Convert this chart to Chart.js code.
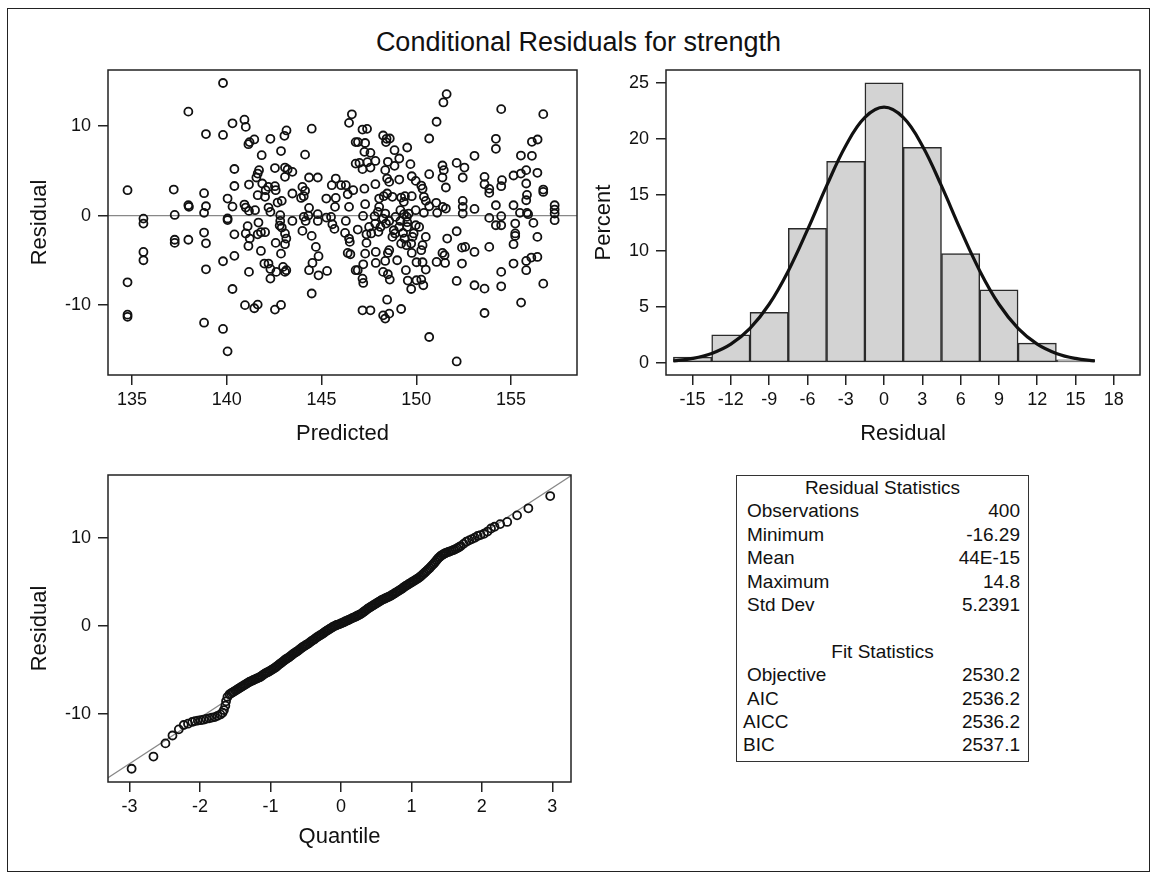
<!DOCTYPE html>
<html>
<head>
<meta charset="utf-8">
<title>Conditional Residuals for strength</title>
<script src="https://cdn.jsdelivr.net/npm/chart.js@4.4.1/dist/chart.umd.min.js"></script>
<style>
  html, body { margin: 0; padding: 0; background: #fff; }
  body { width: 1157px; height: 896px; position: relative; overflow: hidden;
         font-family: 'Liberation Sans', Arial, sans-serif; color: #111; }
  #outer { position: absolute; left: 7px; top: 8px; width: 1143px; height: 864px;
           border: 1.5px solid #222; box-sizing: border-box; }
  #title { position: absolute; left: 0; top: 29px; width: 1157px; text-align: center;
           font-size: 27px; line-height: 27px; }
  .box { position: absolute; }
  .box canvas { display: block; }
  #scatterBox { left: 10px; top: 60px; width: 580px; height: 400px; }
  #histBox { left: 590px; top: 60px; width: 565px; height: 400px; }
  #qqBox { left: 10px; top: 465px; width: 580px; height: 400px; }
  #stats { position: absolute; left: 736px; top: 475px; width: 293px; height: 287px;
           border: 1.5px solid #333; box-sizing: border-box; font-size: 19px; line-height: 23.4px; }
  #stats .row { display: flex; justify-content: space-between; padding: 0 8px 0 10px; height: 23.4px; }
  #stats .head { text-align: center; height: 23.4px; }
  #stats .gap { height: 23.4px; }
</style>
</head>
<body>
<div id="outer"></div>
<div id="title">Conditional Residuals for strength</div>
<div class="box" id="scatterBox"><canvas id="scatterChart"></canvas></div>
<div class="box" id="histBox"><canvas id="histChart"></canvas></div>
<div class="box" id="qqBox"><canvas id="qqChart"></canvas></div>
<div id="stats"></div>

<script>
// Residual vs predicted
const scatterPredicted = [
  139.8, 137.97, 140.3, 138.9, 139.8, 140.4, 140.4, 134.76, 137.2, 138.8, 137.97, 138.0, 138.9, 138.8, 137.25, 140.04,
  140.3, 140.04, 140.04, 135.6, 135.6, 138.8, 140.4, 137.25, 137.25, 137.97, 138.9, 135.6, 135.6, 139.8, 140.4, 138.9,
  134.76, 140.3, 134.76, 134.76, 138.8, 139.8, 140.04,
  140.93, 141.0, 141.14, 141.2, 141.45, 142.3, 143.04, 143.15, 144.48, 141.84, 142.86, 144.13, 142.54, 143.07, 143.21, 143.46,
  141.7, 141.63, 141.56, 143.07, 141.17, 141.87, 142.19, 142.54, 142.58, 142.05, 141.63, 142.02, 143.46, 144.34, 144.8, 143.99,
  144.13, 144.06, 143.92, 145.25, 145.54, 145.75, 146.03, 146.28, 146.38, 145.75, 140.93, 141.0, 141.17, 141.49, 142.2, 142.3,
  142.68, 142.9, 142.82, 142.82, 143.46, 144.06, 144.3, 144.16, 144.8, 144.8, 144.34, 145.25, 145.5, 145.57, 145.71, 145.68,
  146.28, 146.45, 141.1, 141.0, 141.21, 141.67, 141.63, 141.8, 142.02, 141.14, 141.8, 142.58, 142.79, 142.9, 143.07, 143.14,
  143.07, 142.86, 143.99, 144.48, 144.7, 144.84, 144.52, 144.34, 144.84, 145.29, 141.17, 141.98, 142.2, 142.3, 142.3, 142.61,
  142.97, 143.07, 143.14, 146.24, 146.45, 146.49, 146.38, 146.52, 140.96, 141.45, 141.63, 142.54, 142.86, 144.48, 146.6, 146.45,
  146.8, 146.8, 146.8,
  151.6, 151.43, 151.07, 150.68, 147.16, 147.4, 146.92, 147.3, 148.25, 148.43, 148.6, 148.4, 149.52, 148.85, 147.26, 147.58,
  149.1, 147.0, 147.42, 147.84, 147.16, 147.58, 148.5, 148.85, 149.69, 148.36, 149.76, 149.97, 148.46, 148.57, 149.1, 147.84,
  147.26, 146.67, 150.26, 150.33, 150.68, 151.38, 151.45, 151.38, 151.56, 152.13, 152.45, 148.46, 148.28, 149.2, 149.4, 149.76,
  150.4, 150.5, 151.05, 151.4, 151.56, 151.1, 150.68, 147.3, 148.04, 148.36, 147.8, 147.19, 148.9, 149.35, 149.6, 149.16,
  149.52, 149.97, 150.4, 146.91, 147.37, 147.62, 148.0, 148.11, 147.83, 148.4, 148.81, 148.88, 149.3, 149.52, 149.97, 149.86,
  150.5, 147.37, 148.57, 148.5, 148.99, 149.2, 149.48, 149.73, 150.33, 150.26, 149.76, 147.86, 147.3, 147.2, 147.86, 148.36,
  148.25, 148.5, 148.6, 146.91, 147.16, 147.2, 149.45, 149.55, 149.73, 150.01, 150.5, 150.33, 150.01, 150.26, 150.37, 151.07,
  151.38, 151.52, 151.49, 151.63, 152.13, 152.41, 152.41, 152.13, 148.46, 147.16, 147.58, 148.25, 148.36, 148.57, 149.2, 150.68,
  152.13, 152.45, 152.45, 152.45, 147.97, 148.25, 148.57, 149.1, 149.38, 149.8, 149.16, 149.5, 147.51, 148.74, 150.15, 149.34,
  148.74, 148.04,
  154.48, 156.7, 154.2, 154.2, 156.1, 156.4, 155.52, 156.1, 153.07, 152.54, 153.6, 153.6, 153.85, 153.85, 154.52, 154.48,
  155.13, 155.52, 155.8, 156.39, 155.8, 155.84, 155.8, 156.7, 156.7, 153.07, 154.2, 155.13, 155.47, 155.84, 155.9, 153.85,
  154.2, 154.48, 154.48, 155.22, 155.22, 155.22, 155.13, 156.18, 156.39, 157.3, 157.3, 157.3, 157.3, 152.58, 153.07, 153.85,
  153.07, 153.6, 153.6, 154.48, 154.48, 155.13, 155.8, 155.8, 156.07, 156.39, 155.53, 156.7
];
const scatterResidual = [
  14.8, 11.6, 10.3, 9.1, 9.0, 5.2, 3.3, 2.83, 2.9, 2.5, 1.15, 0.97, 1.04, 0.3, 0.07, 1.9,
  1.0, -0.33, -0.5, -0.34, -0.9, -1.9, -2.1, -2.7, -3.05, -2.7, -3.1, -4.06, -4.99, -5.1, -4.5, -6.0,
  -7.45, -8.2, -11.06, -11.3, -11.96, -12.66, -15.16,
  10.7, 9.9, 7.97, 8.2, 8.5, 8.57, 8.9, 9.5, 9.7, 6.74, 7.2, 6.8, 5.3, 5.36, 5.14, 4.88,
  5.07, 4.69, 4.25, 4.32, 3.46, 3.58, 3.2, 3.28, 2.83, 2.83, 2.27, 2.09, 2.46, 4.25, 4.25, 3.2,
  2.76, 2.16, 1.97, 1.9, 3.39, 4.13, 3.39, 3.39, 2.38, 1.97, 1.23, 0.89, 0.52, 0.6, 0.89, 0.41,
  1.45, 1.64, 0.04, -0.6, -0.6, -0.15, 0, -0.6, 0.15, -0.6, 0.86, -0.22, -0.15, -0.97, 0.97, -1.49,
  -0.6, 0.97, -1.19, -2.0, -2.57, -0.78, -2.09, -1.86, -1.86, -3.39, -3.95, -3.05, -1.12, -1.34, -2.0, -2.57,
  -3.2, -4.25, -1.71, -2.27, -3.5, -4.54, -5.29, -6.1, -6.67, -6.18, -6.29, -5.36, -5.36, -5.96, -7.04, -6.29,
  -5.73, -6.29, -6.1, -1.94, -2.57, -2.94, -4.17, -4.32, -10.0, -10.35, -9.94, -10.5, -9.98, -8.7, 11.3, 10.35,
  8.2, 5.8, -6.1,
  13.56, 12.63, 10.47, 8.6, 9.6, 9.68, 8.2, 8.1, 8.94, 8.57, 8.6, 8.2, 7.6, 7.3, 7.11, 7.0,
  6.37, 5.88, 5.96, 6.1, 5.18, 5.36, 6.0, 5.55, 5.74, 5.07, 4.39, 3.87, 4.13, 3.76, 4.02, 3.5,
  3.0, 2.83, 3.35, 3.0, 4.62, 5.59, 5.07, 4.25, 3.13, 5.88, 4.25, 2.46, 2.16, 2.01, 2.16, 2.16,
  2.09, 1.64, 1.42, 0.97, 0.78, 0.3, 1.04, 1.27, 0.97, 0.22, -0.07, -0.04, -0.15, 0.15, 0.22, -0.6,
  -0.74, 0.6, 0.3, -1.56, -2.09, -2.0, -1.82, -1.27, -0.89, -0.89, -1.64, -2.0, -1.94, -1.27, -1.08, -2.0,
  -2.38, -3.05, -3.87, -4.17, -4.99, -3.13, -3.31, -3.13, -3.31, -3.87, -4.17, -4.06, -4.25, -5.44, -5.29, -5.07,
  -6.29, -6.55, -7.15, -6.1, -7.04, -7.52, -6.1, -7.26, -8.2, -5.21, -6.03, -5.21, -7.22, -7.15, -7.78, -5.18,
  -4.17, -5.29, -4.43, -2.57, -1.75, -3.58, -5.36, -7.3, -9.39, -10.58, -10.58, -11.14, -11.5, -10.95, -10.43, -13.56,
  -16.29, 1.64, 0.97, 0.22, 0.41, -0.34, -0.6, -1.27, -2.57, -2.38, 0.6, -0.15, -1.27, -2.38, -1.27, 1.53,
  2.09, 1.9,
  11.88, 11.32, 8.57, 7.45, 8.23, 8.49, 6.7, 6.67, 6.67, 5.36, 4.32, 3.5, 2.98, 2.53, 3.95, 3.28,
  4.47, 4.69, 5.07, 4.77, 3.58, 2.31, 1.71, 2.9, 2.64, 0.74, 1.15, 1.15, 0.3, 0.3, 0.15, -0.26,
  -1.08, -1.08, -0.07, -0.89, -2.0, -2.27, -3.2, -0.82, -2.38, 1.15, 0.67, 0.22, -0.52, -3.5, -4.06, -3.5,
  -7.78, -8.16, -10.88, -6.29, -7.9, -5.36, -6.1, -5.07, -4.69, -4.62, -9.72, -7.6
];
const scatterXTicks = [135, 140, 145, 150, 155];
const residualTicks = [-10, 0, 10];

// Histogram of residuals (percent per bin of width 3)
const histCenters = [-15, -12, -9, -6, -3, 0, 3, 6, 9, 12, 15];
const histPercent = [0.5, 2.5, 4.5, 12, 18, 25, 19.25, 9.75, 6.5, 1.75, 0.25];
const curveResidual = [-16.5, -15, -13.5, -12, -10.5, -9, -7.5, -6, -4.5, -3, -1.5, 0,
  1.5, 3, 4.5, 6, 7.5, 9, 10.5, 12, 13.5, 15, 16.5];
const curvePercent = [0.16, 0.38, 0.83, 1.66, 3.07, 5.22, 8.2, 11.86, 15.79, 19.39, 21.92, 22.84,
  21.92, 19.39, 15.79, 11.86, 8.2, 5.22, 3.07, 1.66, 0.83, 0.38, 0.16];
const histXTicks = [-15, -12, -9, -6, -3, 0, 3, 6, 9, 12, 15, 18];
const histYTicks = [0, 5, 10, 15, 20, 25];

// Q-Q plot, read along the band (dense where the circles merge)
const qqQuantile = [
  -2.97, -2.66, -2.49, -2.39, -2.30, -2.23, -2.17, -2.11, -2.07, -2.03, -1.99, -1.95, -1.91, -1.87, -1.83, -1.79,
  -1.75, -1.71, -1.68, -1.66, -1.64, -1.63, -1.61,
  -1.58, -1.56, -1.54, -1.52, -1.50, -1.48, -1.46, -1.44, -1.42, -1.40, -1.38, -1.36, -1.34, -1.32, -1.30, -1.28,
  -1.26, -1.24, -1.22, -1.20, -1.18, -1.16, -1.14, -1.12, -1.10, -1.08, -1.06, -1.04, -1.02, -1.00, -0.98, -0.96,
  -0.94, -0.92, -0.90, -0.88, -0.86, -0.84, -0.82, -0.80, -0.78, -0.76, -0.74, -0.72, -0.70, -0.68, -0.66, -0.64,
  -0.62, -0.60, -0.58, -0.56, -0.54, -0.52, -0.50, -0.48, -0.46, -0.44, -0.42, -0.40, -0.38, -0.36, -0.34, -0.32,
  -0.30, -0.28, -0.26, -0.24, -0.22, -0.20, -0.18, -0.16, -0.14, -0.12, -0.10, -0.08, -0.06, -0.04, -0.02, 0.00,
  0.02, 0.04, 0.06, 0.08, 0.10, 0.12, 0.14, 0.16, 0.18, 0.20, 0.22, 0.24, 0.26, 0.28, 0.30, 0.32,
  0.34, 0.36, 0.38, 0.40, 0.42, 0.44, 0.46, 0.48, 0.50, 0.52, 0.54, 0.56, 0.58, 0.60, 0.62, 0.64,
  0.66, 0.68, 0.70, 0.72, 0.74, 0.76, 0.78, 0.80, 0.82, 0.84, 0.86, 0.88, 0.90, 0.92, 0.94, 0.96,
  0.98, 1.00, 1.02, 1.04, 1.06, 1.08, 1.10, 1.12, 1.14, 1.16, 1.18, 1.20, 1.22, 1.24, 1.26, 1.28,
  1.30, 1.32, 1.34, 1.36, 1.38, 1.40, 1.42, 1.44, 1.46, 1.48, 1.50, 1.525, 1.55, 1.575, 1.60, 1.625,
  1.65, 1.675, 1.70, 1.74, 1.78, 1.82, 1.86, 1.90, 1.94, 1.98, 2.03, 2.08, 2.13, 2.18, 2.26, 2.36,
  2.50, 2.66, 2.97
];
const qqResidual = [
  -16.29, -14.9, -13.4, -12.5, -11.8, -11.3, -11.15, -10.95, -10.85, -10.8, -10.75, -10.7, -10.6, -10.55, -10.45, -10.4,
  -10.25, -10.1, -9.9, -9.6, -9.1, -8.6, -8.1,
  -7.8, -7.7, -7.6, -7.5, -7.4, -7.3, -7.2, -7.1, -7.0, -6.9, -6.8, -6.7, -6.6, -6.5, -6.4, -6.32,
  -6.25, -6.17, -6.1, -6.02, -5.95, -5.88, -5.8, -5.68, -5.55, -5.45, -5.35, -5.28, -5.2, -5.1, -5.0, -4.9,
  -4.8, -4.68, -4.55, -4.42, -4.3, -4.18, -4.05, -3.92, -3.8, -3.7, -3.6, -3.48, -3.35, -3.22, -3.1, -3.0,
  -2.9, -2.78, -2.65, -2.52, -2.4, -2.3, -2.2, -2.1, -2.0, -1.88, -1.75, -1.65, -1.55, -1.42, -1.3, -1.2,
  -1.1, -1.0, -0.9, -0.78, -0.65, -0.55, -0.45, -0.35, -0.25, -0.15, -0.05, 0.02, 0.1, 0.15, 0.2, 0.28,
  0.35, 0.42, 0.5, 0.58, 0.65, 0.72, 0.8, 0.88, 0.95, 1.02, 1.1, 1.18, 1.25, 1.35, 1.45, 1.58,
  1.7, 1.82, 1.95, 2.05, 2.15, 2.25, 2.35, 2.45, 2.55, 2.65, 2.75, 2.85, 2.95, 3.02, 3.1, 3.18,
  3.25, 3.32, 3.4, 3.5, 3.6, 3.7, 3.8, 3.9, 4.0, 4.1, 4.2, 4.32, 4.45, 4.55, 4.65, 4.75,
  4.85, 4.95, 5.05, 5.15, 5.25, 5.35, 5.45, 5.58, 5.7, 5.85, 6.0, 6.15, 6.3, 6.45, 6.6, 6.78,
  6.95, 7.12, 7.3, 7.5, 7.7, 7.85, 8.0, 8.1, 8.2, 8.28, 8.35, 8.42, 8.5, 8.58, 8.65, 8.75,
  8.85, 8.97, 9.1, 9.35, 9.6, 9.75, 9.9, 10.05, 10.25, 10.35, 10.5, 10.75, 11.1, 11.3, 11.6, 11.85,
  12.6, 13.4, 14.8
];
const qqLineQuantile = [-3.5, 3.5];
const qqLineResidual = [-18.34, 18.34];
const qqXTicks = [-3, -2, -1, 0, 1, 2, 3];

// Statistics panel
const residualStatLabels = ['Observations', 'Minimum', 'Mean', 'Maximum', 'Std Dev'];
const residualStatValues = ['400', '-16.29', '44E-15', '14.8', '5.2391'];
const fitStatLabels = ['Objective', 'AIC', 'AICC', 'BIC'];
const fitStatValues = ['2530.2', '2536.2', '2536.2', '2537.1'];

Chart.defaults.font.family = "'Liberation Sans', Arial, sans-serif";
Chart.defaults.color = '#111';
Chart.defaults.animation = false;
Chart.defaults.plugins.legend.display = false;
Chart.defaults.plugins.tooltip.enabled = false;

// box around the plot area, like the SAS wall
const framePlugin = {
    id: 'frame',
    afterDraw(chart) {
        const { ctx, chartArea: a } = chart;
        ctx.save();
        ctx.strokeStyle = '#222';
        ctx.lineWidth = 1.5;
        ctx.strokeRect(a.left, a.top, a.right - a.left, a.bottom - a.top);
        ctx.restore();
    }
};

function makeAxis(o) {
    const vertical = o.position === 'left';
    return {
        type: 'linear',
        position: o.position,
        min: o.min,
        max: o.max,
        offset: false,
        afterBuildTicks: scale => { scale.ticks = o.ticks.map(v => ({ value: v })); },
        afterFit: scale => {
            if (vertical) scale.width = o.size; else scale.height = o.size;
            // keep the plot area where the layout padding puts it
            scale.paddingTop = 0;
            scale.paddingBottom = 0;
            scale.paddingLeft = 0;
            scale.paddingRight = 0;
        },
        border: { display: false },
        grid: {
            drawOnChartArea: false,
            drawTicks: true,
            tickLength: 10,
            tickWidth: 1.5,
            lineWidth: 1.5,
            tickColor: '#222',
            offset: false
        },
        ticks: { font: { size: 18 }, color: '#111', padding: o.tickPad, autoSkip: false, maxRotation: 0 },
        title: {
            display: true,
            text: o.title,
            color: '#111',
            font: { size: 22 },
            padding: vertical ? { top: o.titlePad, bottom: 0 } : { top: 0, bottom: o.titlePad }
        }
    };
}

function toPoints(xs, ys) {
    return xs.map((x, i) => ({ x: x, y: ys[i] }));
}

function circleSet(points) {
    return {
        data: points,
        pointStyle: 'circle',
        pointRadius: 4,
        borderColor: '#111',
        backgroundColor: 'rgba(0,0,0,0)',
        borderWidth: 1.8,
        order: 1
    };
}

function renderScatter() {
    const xMin = 133.73, xMax = 158.48;
    new Chart(document.getElementById('scatterChart'), {
        type: 'scatter',
        data: {
            datasets: [
                circleSet(toPoints(scatterPredicted, scatterResidual)),
                {
                    type: 'line',
                    data: [{ x: xMin, y: 0 }, { x: xMax, y: 0 }],
                    borderColor: '#888',
                    borderWidth: 1.3,
                    pointRadius: 0,
                    order: 2
                }
            ]
        },
        options: {
            responsive: true,
            maintainAspectRatio: false,
            layout: { padding: { top: 10, right: 13, left: 0, bottom: 0 } },
            scales: {
                x: makeAxis({ position: 'bottom', min: xMin, max: xMax, ticks: scatterXTicks, size: 85, tickPad: 4, title: 'Predicted', titlePad: 13 }),
                y: makeAxis({ position: 'left', min: -17.8, max: 16.25, ticks: residualTicks, size: 98, tickPad: 7, title: 'Residual', titlePad: 17 })
            }
        },
        plugins: [framePlugin]
    });
}

function renderHistogram() {
    new Chart(document.getElementById('histChart'), {
        type: 'bar',
        data: {
            datasets: [
                {
                    type: 'line',
                    data: toPoints(curveResidual, curvePercent),
                    borderColor: '#111',
                    borderWidth: 3.2,
                    pointRadius: 0,
                    tension: 0.4,
                    fill: false,
                    order: 1
                },
                {
                    type: 'bar',
                    data: toPoints(histCenters, histPercent),
                    backgroundColor: '#d3d3d3',
                    borderColor: '#2a2a2a',
                    borderWidth: 1.5,
                    borderSkipped: false,
                    barPercentage: 1,
                    categoryPercentage: 1,
                    order: 2
                }
            ]
        },
        options: {
            responsive: true,
            maintainAspectRatio: false,
            layout: { padding: { top: 10, right: 15, left: 0, bottom: 0 } },
            scales: {
                x: makeAxis({ position: 'bottom', min: -17.08, max: 20.05, ticks: histXTicks, size: 85, tickPad: 4, title: 'Residual', titlePad: 13 }),
                y: makeAxis({ position: 'left', min: -1.1, max: 26.15, ticks: histYTicks, size: 76, tickPad: 7, title: 'Percent', titlePad: 1 })
            }
        },
        plugins: [framePlugin]
    });
}

function renderQQ() {
    new Chart(document.getElementById('qqChart'), {
        type: 'scatter',
        data: {
            datasets: [
                circleSet(toPoints(qqQuantile, qqResidual)),
                {
                    type: 'line',
                    data: toPoints(qqLineQuantile, qqLineResidual),
                    borderColor: '#888',
                    borderWidth: 1.3,
                    pointRadius: 0,
                    order: 2
                }
            ]
        },
        options: {
            responsive: true,
            maintainAspectRatio: false,
            layout: { padding: { top: 10, right: 19, left: 0, bottom: 0 } },
            scales: {
                x: makeAxis({ position: 'bottom', min: -3.305, max: 3.265, ticks: qqXTicks, size: 83, tickPad: 4, title: 'Quantile', titlePad: 15 }),
                y: makeAxis({ position: 'left', min: -17.8, max: 17.2, ticks: residualTicks, size: 98, tickPad: 7, title: 'Residual', titlePad: 17 })
            }
        },
        plugins: [framePlugin]
    });
}

function renderStats() {
    const el = document.getElementById('stats');
    const indent = { AICC: 6, BIC: 6 };  // SAS leaves these a bit further left
    let html = '<div class="head">Residual Statistics</div>';
    residualStatLabels.forEach((label, i) => {
        html += `<div class="row"><span>${label}</span><span>${residualStatValues[i]}</span></div>`;
    });
    html += '<div class="gap"></div><div class="head">Fit Statistics</div>';
    fitStatLabels.forEach((label, i) => {
        const pad = indent[label] !== undefined ? ` style="padding-left:${indent[label]}px"` : '';
        html += `<div class="row"${pad}><span>${label}</span><span>${fitStatValues[i]}</span></div>`;
    });
    el.innerHTML = html;
}

renderScatter();
renderHistogram();
renderQQ();
renderStats();
</script>
</body>
</html>
